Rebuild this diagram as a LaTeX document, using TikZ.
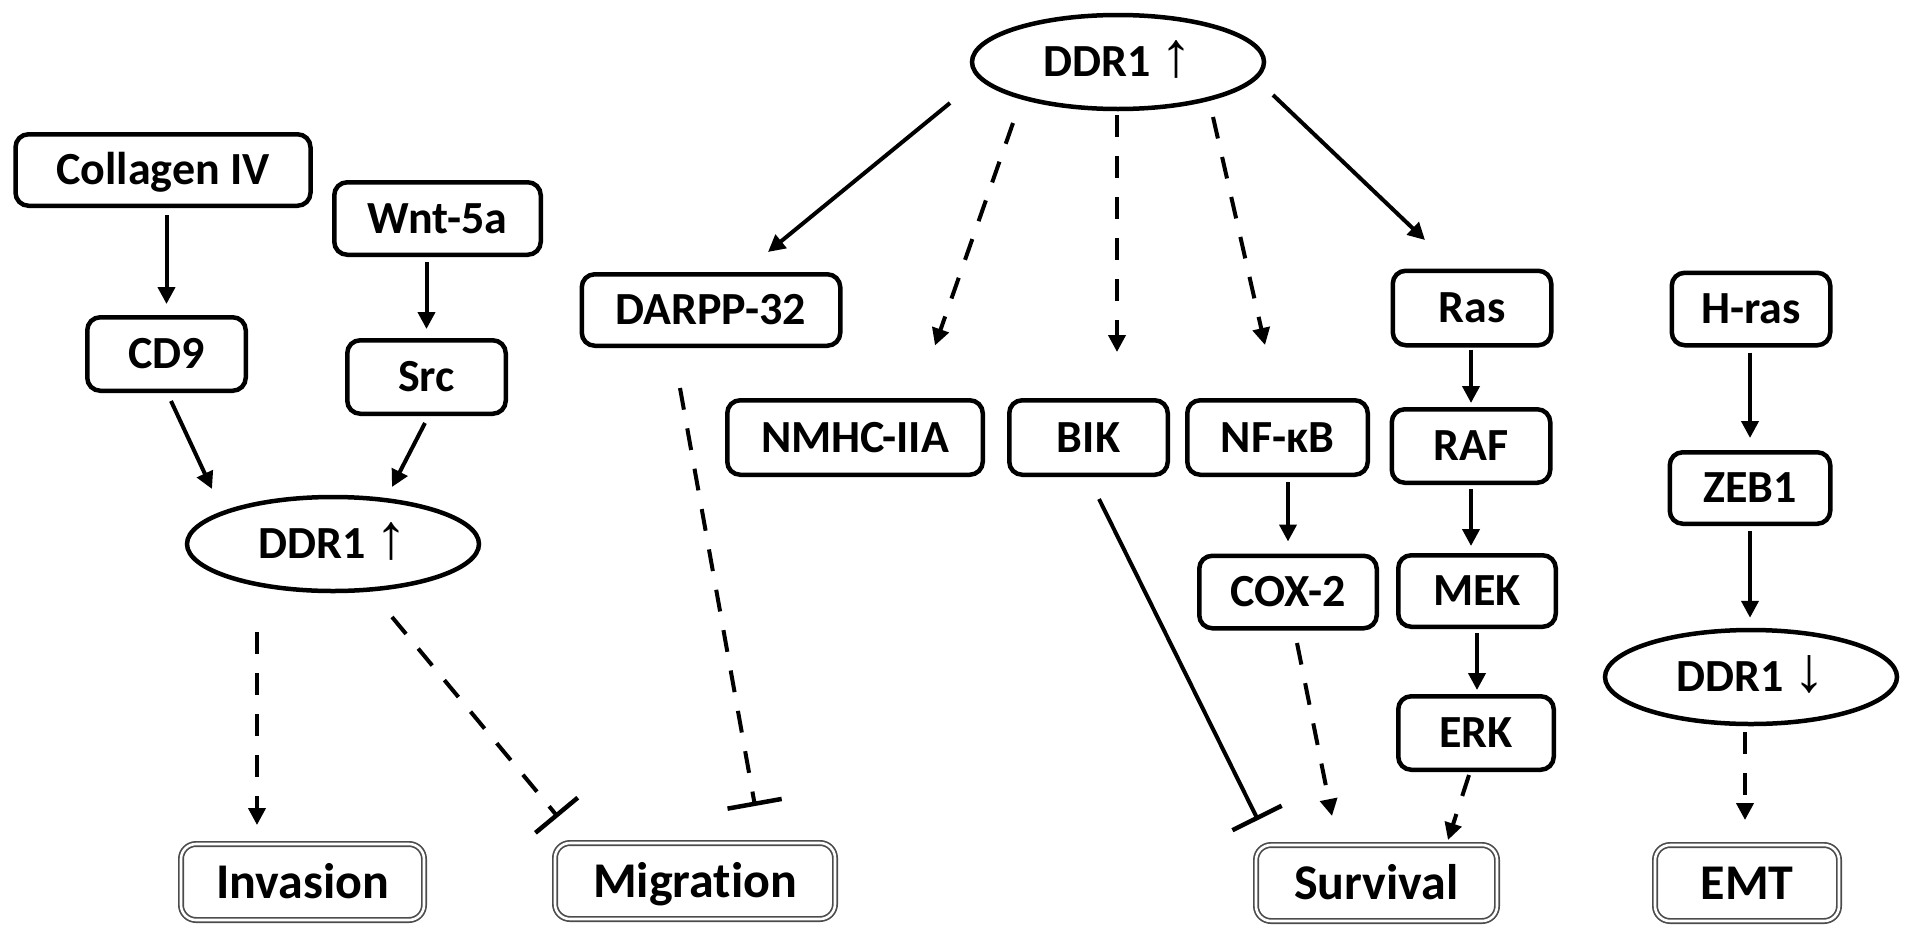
\documentclass[tikz,border=0pt]{standalone}
\usepackage{fontspec}
\setmainfont{Carlito}[Ligatures=NoCommon]
\newfontfamily\arrowfont{Liberation Sans}
\usetikzlibrary{arrows.meta,shapes.geometric}
\newcommand\myup{{\arrowfont\bfseries\fontsize{64}{64}\selectfont ↑}}
\newcommand\mydown{{\arrowfont\bfseries\fontsize{64}{64}\selectfont ↓}}
\tikzset{
  bx/.style={draw, line width=4.5pt, rounded corners=13pt, inner sep=0pt,
    font=\fontsize{46}{50}\selectfont\bfseries, text height=29.6pt, text depth=0pt},
  el/.style={ellipse, draw, line width=4.5pt, inner sep=0pt,
    font=\fontsize{46}{50}\selectfont\bfseries, text height=29.6pt, text depth=0pt,
    minimum width=292pt, minimum height=94pt},
  ob/.style={draw=black!70, double=white, double distance=2.6pt, line width=1.7pt,
    rounded corners=15pt, inner sep=0pt, font=\fontsize{50}{54}\selectfont\bfseries,
    text height=32.2pt, text depth=0pt, minimum height=76pt},
  act/.style={line width=4pt, -{Triangle[length=17pt,width=17pt]}},
  dsh/.style={act, dash pattern=on 22pt off 19pt},
  inh/.style={line width=4pt, -{Bar[width=55pt,line width=4.5pt]}},
  dinh/.style={inh, dash pattern=on 22pt off 19pt},
}
\begin{document}
\begin{tikzpicture}[x=1pt,y=-1pt]
\fill[white] (0,0) rectangle (1913,937);
\useasboundingbox (0,0) rectangle (1913,937);

% left group
\node[bx, minimum width=295pt, minimum height=71.5pt] (coll) at (163,170) {Collagen IV};
\node[bx, minimum width=206.5pt, minimum height=72.5pt] (wnt) at (437.5,218.5) {Wnt-5a};
\node[bx, minimum width=158.5pt, minimum height=73.5pt] (cd9) at (166.5,354) {CD9};
\node[bx, minimum width=158.5pt, minimum height=73.5pt] (src) at (426.5,377) {Src};
\node[el] (ddrL) at (333,544) {DDR1 \myup};
\node[ob, minimum width=243pt] (inv) at (302.5,882) {Invasion};
\node[ob, minimum width=280pt] (mig) at (695,881) {Migration};

% middle group
\node[el] (ddrT) at (1118,62) {DDR1 \myup};
\node[bx, minimum width=258.5pt, minimum height=71.5pt] (darpp) at (711,310) {DARPP-32};
\node[bx, minimum width=255.5pt, minimum height=74.5pt] (nmhc) at (855,437.5) {NMHC-IIA};
\node[bx, minimum width=158.5pt, minimum height=74.5pt] (bik) at (1088.5,437.5) {BIK};
\node[bx, minimum width=180.5pt, minimum height=74.5pt] (nfkb) at (1277.5,437.5) {NF-κB};
\node[bx, minimum width=177.5pt, minimum height=72.5pt] (cox) at (1288,592) {COX-2};
\node[bx, minimum width=158.5pt, minimum height=74.5pt] (ras) at (1472,308) {Ras};
\node[bx, minimum width=158.5pt, minimum height=73.5pt] (raf) at (1471,446) {RAF};
\node[bx, minimum width=157.5pt, minimum height=71.5pt] (mek) at (1477,591) {MEK};
\node[bx, minimum width=155.5pt, minimum height=73.5pt] (erk) at (1476,733) {ERK};
\node[ob, minimum width=241pt] (surv) at (1376.5,883) {Survival};

% right group
\node[bx, minimum width=158.5pt, minimum height=72.5pt] (hras) at (1751,309) {H-ras};
\node[bx, minimum width=160.5pt, minimum height=71.5pt] (zeb) at (1750,488) {ZEB1};
\node[el] (ddrD) at (1751,677) {DDR1 \mydown};
\node[ob, minimum width=184pt] (emt) at (1747,883) {EMT};

% connectors left
\draw[act, shorten <=7pt, shorten >=11pt] (cd9.north |- coll.south) -- (cd9.north);
\draw[act, shorten <=5pt, shorten >=9pt] (src.north |- wnt.south) -- (src.north);
\draw[act] ([shift={(4.5,8)}]cd9.south) -- ([shift={(-121,-55)}]ddrL.center);
\draw[act] ([shift={(-1.5,7)}]src.south) -- ([shift={(59,-57)}]ddrL.center);
\draw[dsh] ([shift={(-76,88)}]ddrL.center) -- ([shift={(-45.5,-57)}]inv.center);
\draw[dinh] ([shift={(59,73)}]ddrL.center) -- ([shift={(-137,-64)}]mig.center);

% connectors middle
\draw[act] ([shift={(-168,41)}]ddrT.center) -- ([shift={(57,-58)}]darpp.center);
\draw[dsh] ([shift={(-105,61)}]ddrT.center) -- ([shift={(80,-92)}]nmhc.center);
\draw[dsh] ([shift={(-1,53)}]ddrT.center) -- ([shift={(28.5,-85.5)}]bik.center);
\draw[dsh] ([shift={(95,55)}]ddrT.center) -- ([shift={(-12.5,-92.5)}]nfkb.center);
\draw[act] ([shift={(155,33)}]ddrT.center) -- ([shift={(-47,-68)}]ras.center);
\draw[dinh] ([shift={(-31,78)}]darpp.center) -- ([shift={(60,-75)}]mig.center);
\draw[act, shorten <=2pt, shorten >=4pt] (raf.north |- ras.south) -- (raf.north);
\draw[act, shorten <=4pt, shorten >=7pt] (raf.south) -- (raf.south |- mek.north);
\draw[act, shorten <=4pt, shorten >=4pt] (mek.south) -- (mek.south |- erk.north);
\draw[act, shorten <=5pt, shorten >=12pt] (cox.north |- nfkb.south) -- (cox.north);
\draw[inh] ([shift={(10.5,61.5)}]bik.center) -- ([shift={(-118.5,-63)}]surv.center);
\draw[dsh] ([shift={(9,51)}]cox.center) -- ([shift={(-44.5,-67)}]surv.center);
\draw[dsh] ([shift={(-7,42)}]erk.center) -- ([shift={(71.5,-43)}]surv.center);

% connectors right
\draw[act, shorten <=5pt, shorten >=12pt] (zeb.north |- hras.south) -- (zeb.north);
\draw[act, shorten <=5pt, shorten >=10pt] (zeb.south) -- (zeb.south |- ddrD.north);
\draw[dsh] ([shift={(-6,55)}]ddrD.center) -- ([shift={(-2,-63)}]emt.center);
\end{tikzpicture}
\end{document}
